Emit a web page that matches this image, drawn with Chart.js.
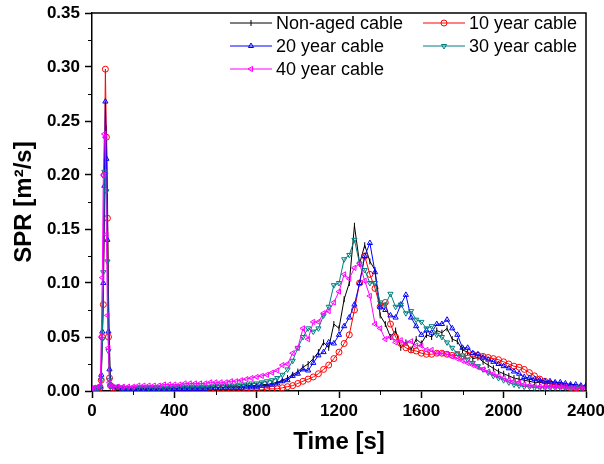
<!DOCTYPE html>
<html>
<head>
<meta charset="utf-8">
<script src="https://cdn.jsdelivr.net/npm/chart.js@4/dist/chart.umd.min.js"></script>
<style>
  body { margin: 0; background: #fff; }
</style>
</head>
<body>
<canvas id="sprChart" width="604" height="464"></canvas>
<script>
// time in seconds (dense around the early spike, then every 25 s)
const time = [
  0, 10, 20, 30, 40, 45, 50, 55, 60, 65, 70, 75, 80, 85, 90,
  100, 125, 150, 175, 200, 225, 250, 275,
  300, 325, 350, 375, 400, 425, 450, 475,
  500, 525, 550, 575, 600, 625, 650, 675,
  700, 725, 750, 775, 800, 825, 850, 875,
  900, 925, 950, 975, 1000, 1025, 1050, 1075,
  1100, 1125, 1150, 1175, 1200, 1225, 1250, 1275,
  1300, 1325, 1350, 1375, 1400, 1425, 1450, 1475,
  1500, 1525, 1550, 1575, 1600, 1625, 1650, 1675,
  1700, 1725, 1750, 1775, 1800, 1825, 1850, 1875,
  1900, 1925, 1950, 1975, 2000, 2025, 2050, 2075,
  2100, 2125, 2150, 2175, 2200, 2225, 2250, 2275,
  2300, 2325, 2350, 2375, 2400
];

// SPR [m2/s]
const nonAged = [
  0.002, 0.002, 0.002, 0.003, 0.004, 0.020, 0.045, 0.090, 0.160, 0.220, 0.243, 0.180, 0.090, 0.040, 0.008,
  0.004, 0.003, 0.002, 0.002, 0.002, 0.002, 0.002, 0.002,
  0.002, 0.002, 0.002, 0.003, 0.002, 0.003, 0.003, 0.003,
  0.003, 0.003, 0.003, 0.003, 0.004, 0.003, 0.004, 0.004,
  0.004, 0.004, 0.005, 0.005, 0.005, 0.006, 0.006, 0.007,
  0.008, 0.010, 0.012, 0.015, 0.018, 0.022, 0.025, 0.030,
  0.036, 0.045, 0.040, 0.062, 0.058, 0.085, 0.100, 0.153,
  0.118, 0.135, 0.120, 0.112, 0.070, 0.062, 0.050, 0.056,
  0.040, 0.045, 0.038, 0.048, 0.044, 0.052, 0.050, 0.056,
  0.054, 0.058, 0.048, 0.046, 0.038, 0.036, 0.030, 0.031,
  0.027, 0.024, 0.021, 0.018, 0.016, 0.014, 0.012, 0.011,
  0.010, 0.009, 0.008, 0.008, 0.007, 0.007, 0.006, 0.006,
  0.005, 0.005, 0.004, 0.004, 0.004
];
const year10 = [
  0.001, 0.001, 0.002, 0.002, 0.003, 0.010, 0.050, 0.080, 0.200, 0.298, 0.235, 0.160, 0.050, 0.012, 0.005,
  0.003, 0.002, 0.002, 0.001, 0.001, 0.001, 0.001, 0.001,
  0.001, 0.001, 0.001, 0.001, 0.001, 0.001, 0.001, 0.001,
  0.001, 0.001, 0.001, 0.001, 0.001, 0.001, 0.001, 0.001,
  0.001, 0.001, 0.001, 0.001, 0.001, 0.001, 0.002, 0.002,
  0.002, 0.003, 0.004, 0.005, 0.007, 0.009, 0.011, 0.013,
  0.016, 0.020, 0.024, 0.030, 0.036, 0.044, 0.052, 0.075,
  0.100, 0.125, 0.108, 0.095, 0.078, 0.082, 0.062, 0.050,
  0.044, 0.040, 0.038, 0.037, 0.035, 0.034, 0.034, 0.035,
  0.035, 0.034, 0.033, 0.033, 0.032, 0.033, 0.034, 0.033,
  0.032, 0.031, 0.030, 0.029, 0.027, 0.025, 0.023, 0.022,
  0.020, 0.017, 0.014, 0.011, 0.009, 0.007, 0.006, 0.005,
  0.004, 0.003, 0.003, 0.002, 0.002
];
const year20 = [
  0.002, 0.002, 0.002, 0.003, 0.004, 0.015, 0.055, 0.100, 0.190, 0.268, 0.215, 0.140, 0.055, 0.020, 0.006,
  0.004, 0.003, 0.002, 0.002, 0.002, 0.002, 0.002, 0.002,
  0.002, 0.002, 0.002, 0.002, 0.002, 0.002, 0.002, 0.002,
  0.002, 0.002, 0.002, 0.003, 0.003, 0.003, 0.003, 0.003,
  0.003, 0.003, 0.004, 0.004, 0.004, 0.005, 0.005, 0.006,
  0.007, 0.009, 0.010, 0.014, 0.016, 0.020, 0.019, 0.026,
  0.033, 0.036, 0.045, 0.044, 0.052, 0.060, 0.068, 0.080,
  0.100, 0.125, 0.137, 0.110, 0.078, 0.075, 0.070, 0.068,
  0.080, 0.089, 0.068, 0.060, 0.052, 0.056, 0.054, 0.062,
  0.062, 0.066, 0.058, 0.052, 0.040, 0.040, 0.035, 0.034,
  0.031, 0.029, 0.027, 0.025, 0.023, 0.021, 0.018, 0.016,
  0.013, 0.012, 0.011, 0.010, 0.009, 0.009, 0.008, 0.008,
  0.007, 0.006, 0.006, 0.005, 0.005
];
const year30 = [
  0.002, 0.002, 0.003, 0.003, 0.004, 0.010, 0.048, 0.110, 0.203, 0.200, 0.185, 0.120, 0.037, 0.010, 0.005,
  0.004, 0.004, 0.003, 0.003, 0.003, 0.003, 0.003, 0.003,
  0.003, 0.003, 0.003, 0.003, 0.004, 0.004, 0.004, 0.004,
  0.004, 0.004, 0.004, 0.004, 0.005, 0.005, 0.005, 0.005,
  0.005, 0.006, 0.006, 0.007, 0.007, 0.008, 0.009, 0.010,
  0.012, 0.015, 0.020, 0.028, 0.040, 0.050, 0.058, 0.055,
  0.058, 0.070, 0.078, 0.098, 0.100, 0.122, 0.126, 0.140,
  0.118, 0.112, 0.100, 0.100, 0.082, 0.080, 0.090, 0.078,
  0.080, 0.072, 0.074, 0.066, 0.064, 0.058, 0.060, 0.052,
  0.050, 0.045, 0.040, 0.035, 0.032, 0.029, 0.026, 0.023,
  0.020, 0.017, 0.014, 0.012, 0.010, 0.008, 0.006, 0.005,
  0.004, 0.004, 0.003, 0.003, 0.003, 0.003, 0.003, 0.003,
  0.003, 0.003, 0.003, 0.003, 0.003
];
const year40 = [
  0.002, 0.003, 0.003, 0.004, 0.005, 0.050, 0.105, 0.200, 0.238, 0.235, 0.145, 0.070, 0.040, 0.008, 0.005,
  0.004, 0.004, 0.004, 0.004, 0.004, 0.005, 0.005, 0.005,
  0.005, 0.005, 0.006, 0.006, 0.006, 0.006, 0.007, 0.007,
  0.007, 0.007, 0.007, 0.008, 0.008, 0.008, 0.008, 0.009,
  0.009, 0.010, 0.011, 0.012, 0.013, 0.014, 0.015, 0.017,
  0.019, 0.024, 0.025, 0.035, 0.040, 0.058, 0.048, 0.064,
  0.064, 0.072, 0.074, 0.082, 0.092, 0.108, 0.104, 0.114,
  0.118, 0.102, 0.088, 0.062, 0.058, 0.048, 0.050, 0.045,
  0.047, 0.044, 0.046, 0.042, 0.042, 0.038, 0.038, 0.035,
  0.035, 0.034, 0.032, 0.030, 0.028, 0.026, 0.024, 0.022,
  0.020, 0.018, 0.016, 0.014, 0.012, 0.010, 0.009, 0.008,
  0.006, 0.005, 0.005, 0.004, 0.004, 0.004, 0.004, 0.004,
  0.004, 0.003, 0.003, 0.003, 0.003
];

const xTicks = [0, 400, 800, 1200, 1600, 2000, 2400];
const yTicks = [0, 0.05, 0.10, 0.15, 0.20, 0.25, 0.30, 0.35];

const seriesNames = ["Non-aged cable", "10 year cable", "20 year cable", "30 year cable", "40 year cable"];
const seriesData = [nonAged, year10, year20, year30, year40];
const seriesColors = ["#000000", "#ff0000", "#0000ff", "#008080", "#ff00ff"];
const seriesMarkers = [
  { style: "line", rotation: 90 },
  { style: "circle", rotation: 0 },
  { style: "triangle", rotation: 0 },
  { style: "triangle", rotation: 180 },
  { style: "triangle", rotation: -90 }
];

const FONT = "'Liberation Sans', Arial, sans-serif";

const datasets = seriesData.map((vals, i) => ({
  label: seriesNames[i],
  data: time.map((t, k) => ({ x: t, y: vals[k] })),
  borderColor: seriesColors[i],
  backgroundColor: "rgba(255,255,255,0)",
  borderWidth: 1,
  pointStyle: seriesMarkers[i].style,
  rotation: seriesMarkers[i].rotation,
  pointRadius: 3,
  pointBorderWidth: 1,
  pointBackgroundColor: "rgba(255,255,255,0)",
  pointBorderColor: seriesColors[i],
  tension: 0,
  order: seriesData.length - i
}));

// legend inside the plot, two columns
const legendInside = {
  id: "legendInside",
  afterDatasetsDraw(chart) {
    const ctx = chart.ctx;
    const cols = [230, 423];
    const rows = [23, 46, 69];
    ctx.save();
    seriesNames.forEach((name, i) => {
      const x = cols[i % 2];
      const y = rows[Math.floor(i / 2)];
      ctx.strokeStyle = seriesColors[i];
      ctx.lineWidth = 1;
      ctx.beginPath();
      ctx.moveTo(x, y);
      ctx.lineTo(x + 42, y);
      ctx.stroke();
      ctx.fillStyle = "rgba(255,255,255,0)";
      Chart.helpers.drawPoint(ctx, {
        pointStyle: seriesMarkers[i].style,
        rotation: seriesMarkers[i].rotation,
        radius: 3,
        borderWidth: 1
      }, x + 21, y);
      ctx.fillStyle = "#000";
      ctx.font = "18px " + FONT;
      ctx.textBaseline = "middle";
      ctx.textAlign = "left";
      ctx.fillText(name, x + 46, y + 1);
    });
    ctx.restore();
  }
};

// box frame and minor ticks
const frame = {
  id: "frame",
  afterDraw(chart) {
    const { ctx, chartArea: a, scales } = chart;
    ctx.save();
    ctx.strokeStyle = "#000";
    ctx.lineWidth = 1.5;
    ctx.beginPath();
    ctx.moveTo(a.left, a.top);
    ctx.lineTo(a.right, a.top);
    ctx.lineTo(a.right, a.bottom);
    ctx.stroke();
    ctx.lineWidth = 1;
    ctx.beginPath();
    for (let v = 200; v < 2400; v += 400) {
      const px = Math.round(scales.x.getPixelForValue(v)) + 0.5;
      ctx.moveTo(px, a.bottom);
      ctx.lineTo(px, a.bottom + 4);
    }
    for (let v = 0.025; v < 0.35; v += 0.05) {
      const py = Math.round(scales.y.getPixelForValue(v)) + 0.5;
      ctx.moveTo(a.left - 4, py);
      ctx.lineTo(a.left, py);
    }
    ctx.stroke();
    ctx.restore();
  }
};

new Chart(document.getElementById("sprChart"), {
  type: "line",
  data: { datasets: datasets },
  options: {
    responsive: false,
    animation: false,
    layout: { padding: { top: 13, right: 18, left: 0, bottom: 0 } },
    plugins: {
      legend: { display: false },
      tooltip: { enabled: false }
    },
    scales: {
      x: {
        type: "linear",
        min: 0,
        max: 2400,
        afterBuildTicks: (scale) => { scale.ticks = xTicks.map(v => ({ value: v })); },
        afterFit: (scale) => {
          scale.height = 73;
          scale.paddingLeft = 0;
          scale.paddingRight = 0;
        },
        ticks: {
          color: "#000",
          padding: 3,
          maxRotation: 0,
          font: { family: FONT, size: 17, weight: "bold" },
          callback: (v) => String(v)
        },
        grid: { drawOnChartArea: false, tickLength: 7, tickColor: "#000", tickWidth: 1.5 },
        border: { color: "#000", width: 1.5 },
        title: {
          display: true,
          text: "Time [s]",
          color: "#000",
          padding: { top: 0, bottom: 7 },
          font: { family: FONT, size: 24, weight: "bold" }
        }
      },
      y: {
        type: "linear",
        min: 0,
        max: 0.35,
        afterBuildTicks: (scale) => { scale.ticks = yTicks.map(v => ({ value: v })); },
        afterFit: (scale) => {
          scale.width = 92;
          scale.paddingTop = 0;
          scale.paddingBottom = 0;
        },
        ticks: {
          color: "#000",
          padding: 5,
          font: { family: FONT, size: 17, weight: "bold" },
          callback: (v) => Number(v).toFixed(2)
        },
        grid: { drawOnChartArea: false, tickLength: 7, tickColor: "#000", tickWidth: 1.5 },
        border: { color: "#000", width: 1.5 },
        title: {
          display: true,
          text: "SPR [m²/s]",
          color: "#000",
          padding: { top: 10, bottom: 0 },
          font: { family: FONT, size: 24, weight: "bold" }
        }
      }
    }
  },
  plugins: [legendInside, frame]
});
</script>
</body>
</html>
